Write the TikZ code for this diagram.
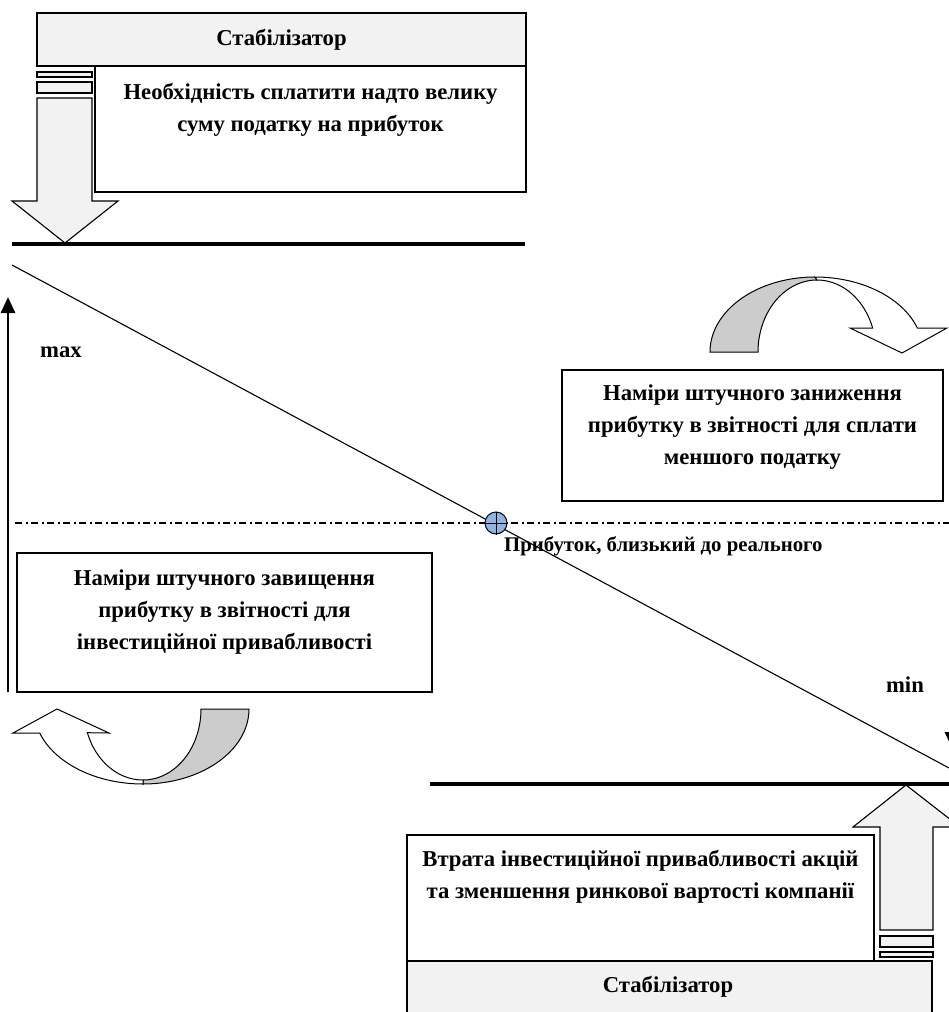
\documentclass[tikz,border=0pt]{standalone}
\usepackage{fontspec}
\setmainfont{Liberation Serif}
\usetikzlibrary{arrows.meta}
\definecolor{lightgr}{RGB}{242,242,242}
\definecolor{bandgr}{RGB}{204,204,204}
\definecolor{markblue}{RGB}{141,180,226}
\begin{document}
\begin{tikzpicture}[x=1pt,y=-1pt,
  txt/.style={font=\fontsize{22.7}{32}\selectfont\bfseries, align=center, inner sep=0pt},
  smalltxt/.style={font=\fontsize{20.8}{28}\selectfont\bfseries, inner sep=0pt},
  panel/.style={draw, line width=1.2pt, inner sep=0pt},
  bar/.style={draw, line width=1.1pt, fill=lightgr},
  thick line/.style={line width=4pt},
  band/.style={draw, line width=1pt}]
\useasboundingbox (0,0) rectangle (949,1012);
\clip (0,0) rectangle (949,1012);

% ---------- top block ----------
\node[panel, fill=lightgr, minimum width=489pt, minimum height=53pt] (stabtop) at (281.5,39.5) {};
\node[txt] (stabtoptxt) at (281.5,39.5) {Стабілізатор};
\node[panel, fill=white, minimum width=431pt, minimum height=126pt] (boxtop) at (310.5,129) {};
\node[txt] (boxtoptxt) at (310.5,110) {Необхідність сплатити надто велику\\суму податку на прибуток};
\draw[bar] (37,72) rectangle (92,77);
\draw[bar] (37,82) rectangle (92,93);
\draw[bar] (37,98) -- (92,98) -- (92,201) -- (118,201) -- (65,243) -- (12,201) -- (37,201) -- cycle;
\coordinate (tl) at (12,244);
\coordinate (tr) at (525,244);
\draw[thick line] (tl) -- (tr);

% ---------- diagonal and axes ----------
\coordinate (d1) at (12,265);
\coordinate (d2) at (949,768);
\draw[line width=1.1pt] (d1) -- (d2);
\coordinate (ab) at (8,692);
\coordinate (at) at (8,297);
\draw[line width=2.8pt, -{Triangle[length=16pt,width=14pt]}] (ab) -- (at);
\coordinate (rb) at (952,300);
\coordinate (rt) at (952,748);
\draw[line width=2.8pt, -{Triangle[length=16pt,width=14pt]}] (rb) -- (rt);
\node[txt] (maxl) at (61,352) {max};
\node[txt] (minl) at (905,685) {min};

% ---------- dash-dot line ----------
\coordinate (m1) at (15,523);
\coordinate (m2) at (949,523);
\draw[line width=1.2pt, dash pattern=on 7pt off 3.5pt on 2pt off 3.5pt] (m1) -- (m2);
\node[circle, draw, line width=1pt, fill=markblue, minimum size=22pt, inner sep=0pt] (pt) at (496,523) {};
\draw[line width=1pt] (pt.west) -- (pt.east) (pt.north) -- (pt.south);
\node[smalltxt, anchor=west] (reallbl) at (504,546) {Прибуток, близький до реального};

% ---------- right box ----------
\node[panel, minimum width=381pt, minimum height=131pt] (boxr) at (752.5,435.5) {};
\node[txt] (boxrtxt) at (752.5,427) {Наміри штучного заниження\\прибутку в звітності для сплати\\меншого податку};

% ---------- left box ----------
\node[panel, minimum width=415pt, minimum height=139pt] (boxl) at (224.5,622.5) {};
\node[txt] (boxltxt) at (224.5,612) {Наміри штучного завищення\\прибутку в звітності для\\інвестиційної привабливості};

% ---------- curved arrow top right ----------
\filldraw[band, fill=bandgr]
  plot[domain=180:90, samples=40] ({815+105*cos(\x)},{352-75*sin(\x)})
  -- plot[domain=90:180, samples=40] ({817+59*cos(\x)},{352-72*sin(\x)}) -- cycle;
\filldraw[band, fill=white]
  plot[domain=90:18.66, samples=40] ({815+108*cos(\x)},{352-75*sin(\x)})
  -- (947,328) -- (902,353) -- (850,328)
  -- plot[domain=19.47:90, samples=40] ({817+59*cos(\x)},{352-72*sin(\x)}) -- cycle;

% ---------- curved arrow bottom left ----------
\filldraw[band, fill=bandgr]
  plot[domain=0:-90, samples=40] ({143+106*cos(\x)},{709-75*sin(\x)})
  -- plot[domain=-90:0, samples=40] ({143+58*cos(\x)},{709-71*sin(\x)}) -- cycle;
\filldraw[band, fill=white]
  plot[domain=-90:-161.3, samples=40] ({143+109*cos(\x)},{709-75*sin(\x)})
  -- (13,733) -- (57,709) -- (109,733)
  -- plot[domain=-160.5:-90, samples=40] ({143+59*cos(\x)},{709-71*sin(\x)}) -- cycle;

% ---------- bottom block ----------
\coordinate (bl) at (430,784);
\coordinate (br) at (949,784);
\draw[thick line] (bl) -- (br);
\draw[bar] (880,930) -- (933,930) -- (933,827) -- (960,827) -- (906,785) -- (853,827) -- (880,827) -- cycle;
\draw[bar] (880,936) rectangle (933,947);
\draw[bar] (880,952) rectangle (933,957);
\node[panel, fill=white, minimum width=467pt, minimum height=126pt] (boxb) at (640.5,898) {};
\node[txt] (boxbtxt) at (640.5,877) {Втрата інвестиційної привабливості акцій\\та зменшення ринкової вартості компанії};
\node[panel, fill=lightgr, minimum width=525pt, minimum height=70pt] (stabbot) at (669.5,996) {};
\node[txt] (stabbottxt) at (668,987) {Стабілізатор};
\end{tikzpicture}
\end{document}
